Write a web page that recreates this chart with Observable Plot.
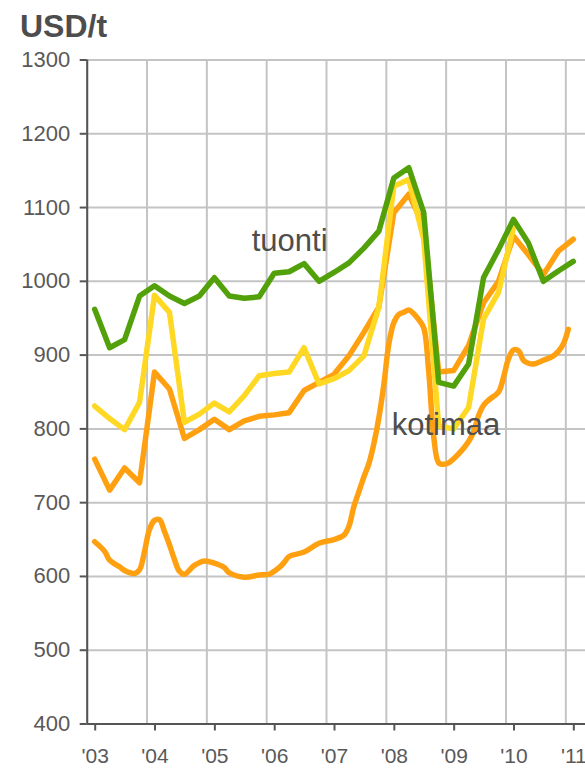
<!DOCTYPE html>
<html><head><meta charset="utf-8">
<script src="https://cdn.jsdelivr.net/npm/d3@7"></script>
<script src="https://cdn.jsdelivr.net/npm/@observablehq/plot@0.6"></script>
<style>
body{margin:0;background:#fff;font-family:"Liberation Sans",Arial,sans-serif;}
#title{height:45px;box-sizing:border-box;padding:10px 0 0 20px;font-weight:bold;font-size:32px;line-height:1;color:#4d4d4d;}
</style></head><body>
<div id="title">USD/t</div>
<div id="chart"></div>
<script>
// Quarterly series
const quarters = ["2003Q1","2003Q2","2003Q3","2003Q4","2004Q1","2004Q2","2004Q3","2004Q4",
  "2005Q1","2005Q2","2005Q3","2005Q4","2006Q1","2006Q2","2006Q3","2006Q4",
  "2007Q1","2007Q2","2007Q3","2007Q4","2008Q1","2008Q2","2008Q3","2008Q4",
  "2009Q1","2009Q2","2009Q3","2009Q4","2010Q1","2010Q2","2010Q3","2010Q4","2011Q1"];
const tuontiGreen = [962,910,921,980,994,980,970,980,1005,980,977,979,1011,1013,1024,1000,
  1012,1025,1045,1068,1140,1154,1093,863,858,888,1005,1043,1084,1052,1000,1014,1027];
const tuontiYellow = [831,814,799,836,981,958,809,820,835,823,845,872,875,877,910,861,
  868,879,899,965,1129,1138,1057,804,800,829,949,985,1073];
const kotimaaUpper = [759,717,747,727,877,854,787,799,813,799,811,817,819,822,852,863,
  874,899,931,965,1093,1118,1075,877,879,913,971,1000,1061,1036,1009,1041,1057];
// Monthly series (lower orange, kotimaa)
const kotimaaMonths = ["2003-02","2003-04","2003-05","2003-07","2003-08","2003-10","2003-11","2003-12",
  "2004-01","2004-02","2004-03","2004-04","2004-05","2004-06","2004-07","2004-08","2004-10","2004-12",
  "2005-02","2005-04","2005-05","2005-08","2005-11",
  "2006-01","2006-03","2006-04","2006-05","2006-08","2006-11",
  "2007-02","2007-04","2007-05","2007-06","2007-07","2007-08","2007-09","2007-10","2007-11","2007-12",
  "2008-01","2008-02","2008-03","2008-04","2008-05","2008-06","2008-07","2008-08","2008-09","2008-10","2008-11","2008-12",
  "2009-01","2009-03","2009-05","2009-06","2009-07","2009-08","2009-09","2009-11","2009-12",
  "2010-01","2010-02","2010-03","2010-04","2010-05","2010-06","2010-08","2010-10","2010-11","2010-12",
  "2011-01"];
const kotimaaLower = [647,634,622,613,608,604,609,634,
  664,676,677,661,643,623,607,603,615,621,
  618,612,605,599,602,
  603,612,619,627,633,645,
  650,656,668,695,715,735,753,780,815,860,
  915,944,955,958,961,956,948,937,878,790,754,752,
  754,766,783,796,818,832,839,850,870,
  895,907,906,893,889,888,893,899,905,915,
  935];
const yTicks = [400,500,600,700,800,900,1000,1100,1200,1300];
const xTicks = [2003,2004,2005,2006,2007,2008,2009,2010,2011];
const labels = [
  {text:"tuonti", year:2005.75, value:1055},
  {text:"kotimaa", year:2008.09, value:805}
];

const qYear = q => +q.slice(0,4) + (+q.slice(5) - 0.5) / 4;
const mYear = m => +m.slice(0,4) + (+m.slice(5) - 0.5) / 12;
const qRows = arr => arr.map((v,i) => ({x: qYear(quarters[i]), y: v}));
const mRows = kotimaaMonths.map((m,i) => ({x: mYear(m), y: kotimaaLower[i]}));

const GREEN = "#52a00a", YELLOW = "#ffd824", ORANGE = "#ffa010";
const GRID = "#c4c4c4", AXIS = "#555555", TEXT = "#595959";
const LW = 5.5;

const chart = Plot.plot({
  width: 585,
  height: 723,
  marginTop: 14.5,
  marginBottom: 44.5,
  marginLeft: 86.7,
  marginRight: 0,
  style: {fontFamily: '"Liberation Sans", Arial, sans-serif', background: "#fff", color: TEXT, fontSize: "21px"},
  x: {type: "linear", domain: [2003, 2011.329]},
  y: {domain: [400, 1300]},
  marks: [
    Plot.gridY(yTicks, {stroke: GRID, strokeOpacity: 1, strokeWidth: 2}),
    Plot.gridX(xTicks, {stroke: GRID, strokeOpacity: 1, strokeWidth: 2}),
    Plot.line(mRows, {x: "x", y: "y", stroke: ORANGE, strokeWidth: LW, curve: "catmull-rom", strokeLinejoin: "round"}),
    Plot.line(qRows(kotimaaUpper), {x: "x", y: "y", stroke: ORANGE, strokeWidth: LW, strokeLinejoin: "round"}),
    Plot.line(qRows(tuontiYellow), {x: "x", y: "y", stroke: YELLOW, strokeWidth: LW, strokeLinejoin: "round"}),
    Plot.line(qRows(tuontiGreen), {x: "x", y: "y", stroke: GREEN, strokeWidth: LW, strokeLinejoin: "round"}),
    Plot.ruleX([2003], {stroke: AXIS, strokeWidth: 2}),
    Plot.ruleY([400], {stroke: AXIS, strokeWidth: 2}),
    Plot.axisY({ticks: yTicks, tickSize: 7, tickPadding: 10, fontSize: 22, stroke: AXIS, strokeWidth: 2, fill: TEXT,
      tickFormat: d => String(d), label: null}),
    Plot.axisX({ticks: xTicks, tickSize: 7, tickPadding: 17, fontSize: 21, stroke: AXIS, strokeWidth: 2, fill: TEXT, dx: 8,
      tickFormat: d => "'" + String(d).slice(2), label: null}),
    Plot.text(labels, {x: "year", y: "value", text: "text", textAnchor: "start", fontSize: 31, fill: "#4d4d4d"})
  ]
});
document.getElementById("chart").appendChild(chart);
</script>
</body></html>
